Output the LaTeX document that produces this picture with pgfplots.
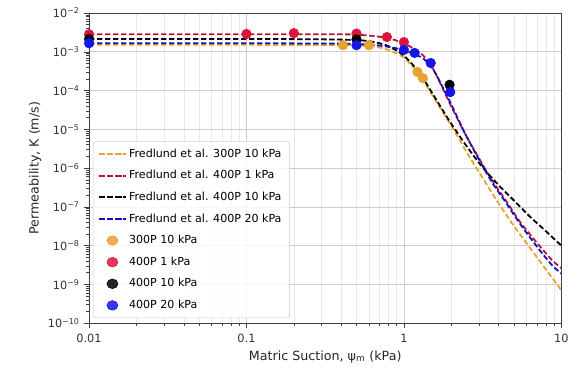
\documentclass[border=0pt]{standalone}
\usepackage{fontspec}
\setmainfont{DejaVu Sans}
\usepackage{pgfplots}
\pgfplotsset{compat=1.18}

\definecolor{cOrange}{RGB}{232,162,48}
\definecolor{cRed}{RGB}{220,20,60}
\definecolor{cBlue}{RGB}{20,20,235}
\definecolor{gridmaj}{RGB}{205,205,205}
\definecolor{gridmin}{RGB}{232,232,232}

\tikzset{fredlund/.style={line width=1.35pt, dash pattern=on 4pt off 2pt, smooth, tension=0.45}}

\begin{document}
\begin{tikzpicture}
\path[use as bounding box] (-66.75pt,-43.5pt) rectangle (362pt,242.25pt);
\begin{axis}[
  scale only axis,
  width=354pt, height=232.5pt,
  xmode=log, ymode=log,
  xmin=0.01, xmax=10, ymin=1e-10, ymax=1e-2,
  xtick={0.01,0.1,1,10},
  xticklabels={0.01,0.1,1,10},
  ytick={1e-10,1e-9,1e-8,1e-7,1e-6,1e-5,1e-4,1e-3,1e-2},
  yticklabels={10\textsuperscript{−10},10\textsuperscript{−9},10\textsuperscript{−8},10\textsuperscript{−7},10\textsuperscript{−6},10\textsuperscript{−5},10\textsuperscript{−4},10\textsuperscript{−3},10\textsuperscript{−2}},
  tick label style={font=\fontsize{8.5}{10}\selectfont, text=black!80},
  label style={font=\fontsize{9.5}{11}\selectfont, text=black!85},
  xticklabel style={yshift=-1.5pt},
  xlabel={Matric Suction, ψ\textsubscript{m} (kPa)},
  ylabel={Permeability, K (m/s)},
  xlabel style={yshift=1pt},
  ylabel style={yshift=-2pt},
  grid=both,
  major grid style={gridmaj, line width=0.5pt},
  minor grid style={gridmin, line width=0.4pt},
  yminorgrids=false,
  minor y tick num=0,
  tick align=outside,
  tick pos=left,
  major tick length=3.5pt,
  minor tick length=2pt,
  axis line style={black!75, line width=0.7pt},
  every tick/.style={black!75},
  clip mode=individual,
  legend cell align=left,
  legend image post style={xscale=1.15},
  legend style={
    at={(0.008,0.016)}, anchor=south west,
    font=\fontsize{8.3}{10}\selectfont,
    draw=black!20, rounded corners=2pt, fill=white, fill opacity=0.85, text opacity=1,
    row sep=4.4pt, inner xsep=4pt, inner ysep=3.5pt,
  },
]

% Fredlund et al. model curves
\addplot[cOrange, fredlund] coordinates {
  (0.01,1.51e-3) (0.1,1.51e-3) (0.398,1.48e-3) (0.631,1.38e-3) (0.794,1.12e-3)
  (1,7.08e-4) (1.259,2.51e-4) (1.585,5.62e-5) (1.995,1.26e-5) (2.512,2.51e-6)
  (3.162,5.62e-7) (3.981,1.26e-7) (5.012,3.16e-8) (6.31,8.91e-9) (7.943,2.51e-9) (10,7.08e-10)
};
\addlegendentry{Fredlund et al. 300P 10 kPa}

\addplot[cRed!85!black, fredlund] coordinates {
  (0.01,2.82e-3) (0.1,2.82e-3) (0.398,2.82e-3) (0.501,2.75e-3) (0.631,2.57e-3)
  (0.794,2.24e-3) (1,1.66e-3) (1.259,9.55e-4) (1.413,6.03e-4) (1.585,2.82e-4)
  (1.995,3.98e-5) (2.512,6.31e-6) (3.548,5.62e-7) (4.467,1.41e-7) (5.495,3.98e-8)
  (7.079,1.12e-8) (8.71,4.27e-9) (10,2.63e-9)
};
\addlegendentry{Fredlund et al. 400P 1 kPa}

\addplot[black, fredlund] coordinates {
  (0.01,2.14e-3) (0.1,2.14e-3) (0.316,2.09e-3) (0.501,2.0e-3) (0.631,1.82e-3)
  (0.794,1.41e-3) (1,7.94e-4) (1.259,2.82e-4) (1.585,6.31e-5) (1.995,1.41e-5)
  (2.57,3.16e-6) (3.162,1.05e-6) (3.981,3.7e-7) (5.012,1.45e-7) (6.31,5.62e-8)
  (7.943,2.4e-8) (10,1e-8)
};
\addlegendentry{Fredlund et al. 400P 10 kPa}

\addplot[cBlue!80!black, fredlund] coordinates {
  (0.01,1.66e-3) (0.1,1.66e-3) (0.398,1.62e-3) (0.501,1.58e-3) (0.631,1.51e-3)
  (0.794,1.35e-3) (1,1.10e-3) (1.259,7.59e-4) (1.413,5.37e-4) (1.585,2.82e-4)
  (1.995,4.47e-5) (2.512,6.31e-6) (3.548,5.01e-7) (4.467,1.26e-7) (5.495,3.55e-8)
  (7.079,8.91e-9) (8.71,3.16e-9) (10,1.91e-9)
};
\addlegendentry{Fredlund et al. 400P 20 kPa}

% Measured permeability
\addplot[only marks, mark=*, mark size=3.6pt, color=cOrange] coordinates {
  (0.41,1.48e-3) (0.6,1.48e-3) (1.22,3.02e-4) (1.32,2.09e-4)
};
\addlegendentry{300P 10 kPa}

\addplot[only marks, mark=*, mark size=3.6pt, color=cRed] coordinates {
  (0.01,2.82e-3) (0.1,2.88e-3) (0.2,3.02e-3) (0.5,2.95e-3) (0.78,2.4e-3) (1.0,1.78e-3)
};
\addlegendentry{400P 1 kPa}

\addplot[only marks, mark=*, mark size=3.6pt, color=black] coordinates {
  (0.01,2.14e-3) (0.5,2.09e-3) (1.95,1.41e-4)
};
\addlegendentry{400P 10 kPa}

\addplot[only marks, mark=*, mark size=3.6pt, color=cBlue] coordinates {
  (0.01,1.66e-3) (0.5,1.48e-3) (1.0,1.12e-3) (1.17,9.33e-4) (1.48,5.13e-4) (1.97,9.12e-5)
};
\addlegendentry{400P 20 kPa}

\end{axis}
\end{tikzpicture}
\end{document}
